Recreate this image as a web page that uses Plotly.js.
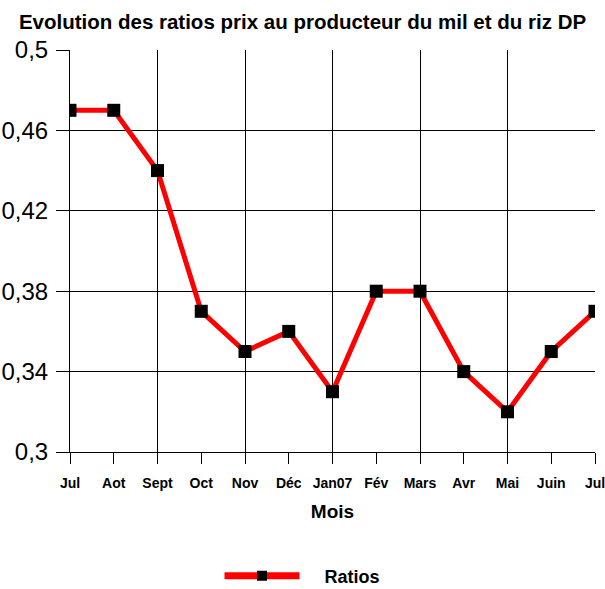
<!DOCTYPE html>
<html><head><meta charset="utf-8">
<script src="https://cdn.plot.ly/plotly-3.0.1.min.js"></script>
<style>html,body{margin:0;padding:0;background:#fff}#chart{width:605px;height:589px}</style>
</head><body><div id="chart"></div>
<script>
var months = ["Jul","Aot","Sept","Oct","Nov","Déc","Jan07","Fév","Mars","Avr","Mai","Juin","Jul"];
var ratios = [0.47,0.47,0.44,0.37,0.35,0.36,0.33,0.38,0.38,0.34,0.32,0.35,0.37];
var yTicks = [0.3,0.34,0.38,0.42,0.46,0.5];
var yTickText = ["0,3","0,34","0,38","0,42","0,46","0,5"];
var xIdx = months.map(function(_,i){return i;});

var trace = {
  x: xIdx, y: ratios, type: "scatter", mode: "lines+markers", name: "Ratios", showlegend: false,
  line: {color: "#ff0000", width: 5},
  marker: {symbol: "square", size: 13, color: "#000000"}
};
var legendTrace = {
  x: [null], y: [null], type: "scatter", mode: "lines+markers",
  name: "\u00a0\u00a0\u00a0\u00a0<b>Ratios</b>", showlegend: true,
  line: {color: "#ff0000", width: 7},
  marker: {symbol: "square", size: 10, color: "#000000"}
};
var F = "Liberation Sans, Arial, sans-serif";
var layout = {
  width: 605, height: 589,
  margin: {l: 70, r: 10, t: 50, b: 137},
  paper_bgcolor: "#fff", plot_bgcolor: "#fff",
  font: {family: F, color: "#000"},
  title: {text: "<b>Evolution des ratios prix au producteur du mil et du riz DP</b>",
    font: {family: F, size: 20.5, color: "#000"}, xref: "container", x: 0.5, xanchor: "center",
    yref: "container", y: 0.963, yanchor: "middle"},
  xaxis: {
    range: [0, 12], tickmode: "array", tickvals: xIdx, ticktext: months.map(function(m){return "<b>"+m+"</b>";}),
    ticks: "outside", ticklen: 11, tickcolor: "#000", tickwidth: 1, ticklabelstandoff: 7,
    ticklabeloverflow: "allow",
    tickfont: {family: F, size: 14, color: "#000"},
    showgrid: false, showline: true, linecolor: "#000", linewidth: 1, zeroline: false,
    minor: {tickmode: "linear", tick0: 0, dtick: 2, showgrid: true, gridcolor: "#000", gridwidth: 1, ticks: ""},
    title: {text: "<b>Mois</b>", font: {family: F, size: 19, color: "#000"}, standoff: 14}
  },
  yaxis: {
    range: [0.3, 0.5], tickmode: "array", tickvals: yTicks, ticktext: yTickText,
    ticks: "outside", ticklen: 13, tickcolor: "#000", tickwidth: 1, ticklabelstandoff: 3,
    ticklabeloverflow: "allow",
    tickfont: {family: F, size: 24, color: "#000"},
    showgrid: true, gridcolor: "#000", gridwidth: 1,
    showline: true, linecolor: "#000", linewidth: 1, zeroline: false
  },
  showlegend: true,
  legend: {orientation: "h", x: 0.5, xref: "container", xanchor: "center", y: 0.022, yref: "container", yanchor: "middle",
    itemwidth: 75, font: {family: F, size: 18, color: "#000"}}
};
Plotly.newPlot("chart", [trace, legendTrace], layout, {displayModeBar: false, staticPlot: true});
</script></body></html>
